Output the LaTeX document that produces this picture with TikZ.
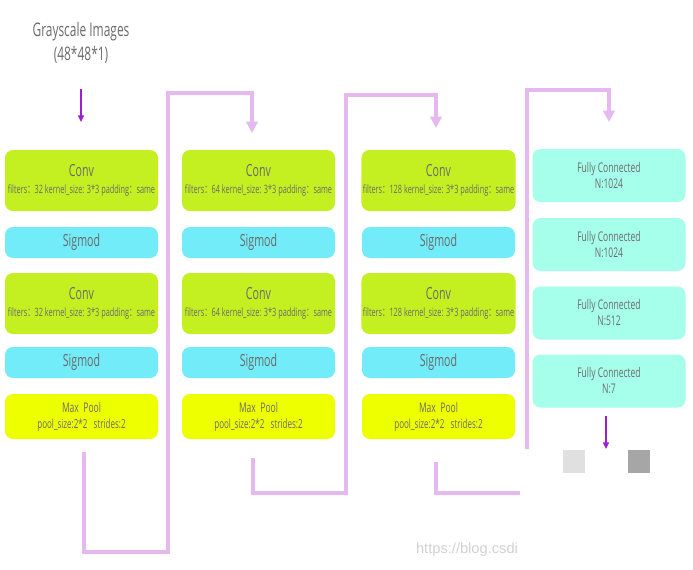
\documentclass[tikz,border=0pt]{standalone}
\usepackage{fontspec}
\setmainfont{Open Sans}[FakeStretch=0.64]
\newfontfamily\cjk{Noto Sans CJK SC}[FakeStretch=0.64]
\newfontfamily\wmfont{Liberation Sans}
\usetikzlibrary{arrows.meta}
\tikzset{
    block/.style={rectangle, rounded corners=6pt, minimum width=114.75pt,
        text=txt, align=center, inner sep=1pt},
    link/.style={draw=linkc, line width=2.6pt},
    linkarrow/.style={link, -{Triangle[width=8.5pt,length=8.5pt]}},
    feed/.style={draw=feedc, line width=1.1pt, -{Triangle[width=4.5pt,length=5pt]}},
}
\newcommand\convtext[1]{{\fontsize{12.5}{13}\selectfont Conv}\\[1pt]%
    {\fontsize{8.6}{10}\selectfont filters{\cjk ：}#1 kernel\_size: 3*3 padding{\cjk ：}same}}
\newcommand\sigtext{{\fontsize{12.5}{13}\selectfont Sigmod}}
\newcommand\pooltext{{\fontsize{10}{11}\selectfont Max~~Pool}\\%
    {\fontsize{9.4}{11}\selectfont pool\_size:2*2~~~strides:2}}
\newcommand\fctext[1]{\fontsize{10}{14.5}\selectfont Fully Connected\\N:#1}

\begin{document}
\begin{tikzpicture}[x=0.75pt,y=-0.75pt]
\colorlet{txt}{black!58}
\colorlet{convc}{rgb,255:red,196;green,240;blue,34}
\colorlet{sigc}{rgb,255:red,114;green,236;blue,248}
\colorlet{poolc}{rgb,255:red,238;green,255;blue,0}
\colorlet{fcc}{rgb,255:red,166;green,255;blue,235}
\colorlet{linkc}{rgb,255:red,230;green,184;blue,240}
\colorlet{feedc}{rgb,255:red,155;green,30;blue,210}

\useasboundingbox (0,0) rectangle (693,569);

\node[text=txt, align=center, font=\fontsize{14}{17.5}\selectfont] (title) at (81,43)
  {Grayscale Images\\(48*48*1)};

% three conv columns
\foreach \cx/\nf/\c in {81.5/32/1, 258.5/64/2, 438.5/128/3}{
  \node[block, fill=convc, minimum height=45.75pt] (conva-\c) at (\cx,180.5) {\convtext{\nf}};
  \node[block, fill=sigc, minimum height=23.25pt] (siga-\c) at (\cx,242.5) {\sigtext};
  \node[block, fill=convc, minimum height=45.75pt] (convb-\c) at (\cx,303.5) {\convtext{\nf}};
  \node[block, fill=sigc, minimum height=23.25pt] (sigb-\c) at (\cx,362.5) {\sigtext};
  \node[block, fill=poolc, minimum height=33.75pt] (pool-\c) at (\cx,416.5) {\pooltext};
}

% dense column
\foreach \cy/\nn/\c in {175.5/1024/1, 244.5/1024/2, 313/512/3, 381/7/4}{
  \node[block, fill=fcc, minimum height=39.75pt] (fc-\c) at (609,\cy) {\fctext{\nn}};
}

\node[fill=black!12, minimum width=16.5pt, minimum height=17.25pt, inner sep=0pt] (outa) at (574,461.5) {};
\node[fill=black!35, minimum width=16.5pt, minimum height=17.25pt, inner sep=0pt] (outb) at (639,461.5) {};

\coordinate (ins) at (81,89);   \coordinate (ine) at (81,122);
\coordinate (outs) at (606,416); \coordinate (oute) at (606,449);
\draw[feed] (ins) -- (ine);
\draw[feed] (outs) -- (oute);

\coordinate (s1) at (84,452);  \coordinate (e1) at (252,133);
\coordinate (s2) at (253,458); \coordinate (e2) at (436,128);
\coordinate (s3) at (436,462); \coordinate (s4) at (527,449);
\coordinate (e4) at (609,122);

\draw[linkarrow] (s1) |- (168,552) -- (168,93) -| (e1);
\draw[linkarrow] (s2) |- (346,493) -- (346,95) -| (e2);
\draw[link] (s3) |- (520,493);
\draw[linkarrow] (s4) -- (527,90) -| (e4);

\node[text=black!18, font=\wmfont\fontsize{11}{13}\selectfont] (wm) at (467,550) {https://blog.csdi};
\end{tikzpicture}
\end{document}
